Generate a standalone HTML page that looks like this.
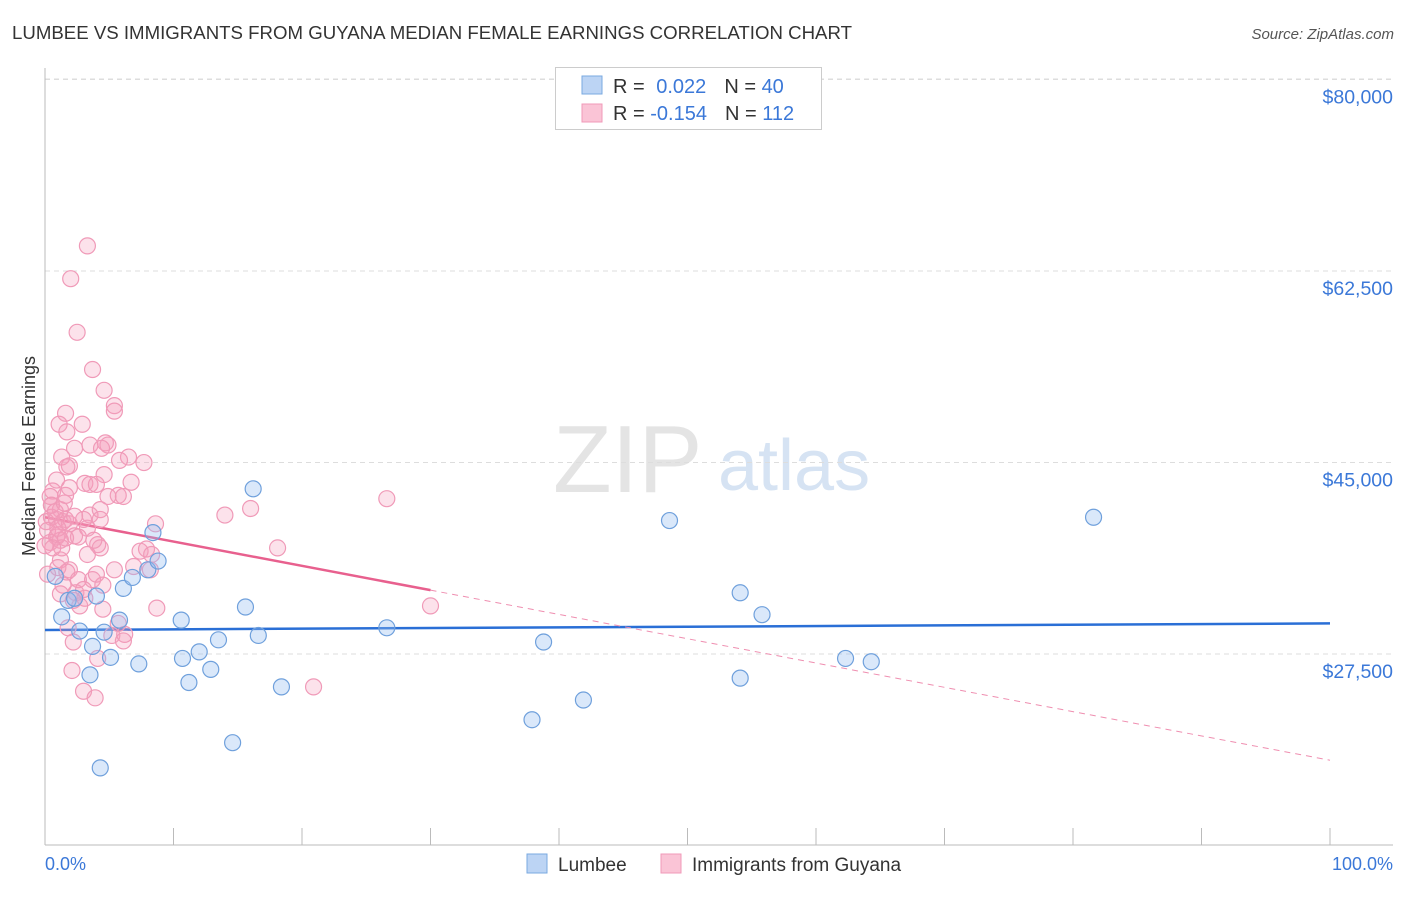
<!DOCTYPE html>
<html><head><meta charset="utf-8"><style>
body{margin:0;background:#fff;font-family:"Liberation Sans",sans-serif;}
svg text{font-family:"Liberation Sans",sans-serif;}
</style></head><body>
<svg id="chart" width="1406" height="892" viewBox="0 0 1406 892" xmlns="http://www.w3.org/2000/svg">
<text x="12" y="39" font-size="18" fill="#333" textLength="840" lengthAdjust="spacingAndGlyphs">LUMBEE VS IMMIGRANTS FROM GUYANA MEDIAN FEMALE EARNINGS CORRELATION CHART</text>
<text x="1394" y="39" font-size="15" fill="#555" font-style="italic" text-anchor="end">Source: ZipAtlas.com</text>
<g>
<text x="553" y="492" font-size="96" fill="#e4e4e4" font-family="Liberation Serif, serif">ZIP</text>
<text x="718" y="490" font-size="72" fill="#d6e3f3">atlas</text>
</g>
<g id="grid"></g>
<g id="axes"></g>
<g id="lines"></g>
<g id="pts"></g>
<text transform="translate(35,456) rotate(-90)" font-size="18" fill="#333" text-anchor="middle">Median Female Earnings</text>
<text x="45" y="870" font-size="18" fill="#3b78d8">0.0%</text>
<text x="1393" y="870" font-size="18" fill="#3b78d8" text-anchor="end">100.0%</text>
<g>
<rect x="555.5" y="67.5" width="266" height="62" fill="#fff" stroke="#ccc"/>
<rect x="582" y="76" width="20" height="18" fill="#bcd4f4" stroke="#7aaae0"/>
<rect x="582" y="104" width="20" height="18" fill="#fac4d6" stroke="#f09ab8"/>
<text x="613" y="93" font-size="20" fill="#333">R = <tspan fill="#3b78d8" dx="6">0.022</tspan><tspan fill="#333" dx="18">N = </tspan><tspan fill="#3b78d8">40</tspan></text>
<text x="613" y="120" font-size="20" fill="#333">R = <tspan fill="#3b78d8">-0.154</tspan><tspan fill="#333" dx="18">N = </tspan><tspan fill="#3b78d8">112</tspan></text>
</g>
<g>
<rect x="527" y="854" width="20" height="19" fill="#bcd4f4" stroke="#7aaae0"/>
<text x="558" y="871" font-size="19" fill="#333">Lumbee</text>
<rect x="661" y="854" width="20" height="19" fill="#fac4d6" stroke="#f09ab8"/>
<text x="692" y="871" font-size="19" fill="#333">Immigrants from Guyana</text>
</g>
</svg>
<script>
const yTicks=[27500,45000,62500,80000];
const yTickLabels=["$27,500","$45,000","$62,500","$80,000"];
const xTicks=[0,10,20,30,40,50,60,70,80,90,100];
const lumbeeX=[0.8,1.3,1.8,2.3,2.7,3.5,3.7,4.3,4.6,5.1,5.8,6.1,6.8,7.3,8.0,8.4,8.8,10.6,10.7,11.2,12.0,12.9,13.5,14.6,15.6,16.2,16.6,18.4,26.6,37.9,38.8,41.9,48.6,54.1,54.1,55.8,62.3,64.3,81.6,4.0];
const lumbeeY=[34.6,30.9,32.4,32.6,29.6,25.6,28.2,17.1,29.5,27.2,30.6,33.5,34.5,26.6,35.2,38.6,36.0,30.6,27.1,24.9,27.7,26.1,28.8,19.4,31.8,42.6,29.2,24.5,29.9,21.5,28.6,23.3,39.7,33.1,25.3,31.1,27.1,26.8,40.0,32.8];
const guyanaX=[3.3,2.0,2.5,3.7,4.6,5.4,5.4,1.6,2.9,1.1,1.7,3.5,4.7,4.9,2.3,1.3,1.9,1.7,6.5,7.7,5.8,4.6,0.9,3.1,3.5,4.0,6.7,0.6,0.4,0.5,1.2,3.5,4.3,5.7,4.9,6.1,0.5,0.9,1.4,1.6,1.9,0.1,0.2,0.9,1.2,0.4,2.3,3.3,8.6,14.0,16.0,26.6,4.1,4.3,7.4,7.9,8.3,18.1,1.2,3.3,1.0,1.9,1.7,5.4,6.9,8.2,0.2,1.4,2.6,3.7,4.0,1.2,2.4,3.0,4.5,2.2,2.7,4.5,8.7,30.0,1.8,2.2,5.2,6.2,6.1,4.1,2.1,3.0,3.9,20.9,0.5,0.8,1.0,1.3,2.6,3.0,0,1.9,3.1,5.7,1.0,1.5,1.6,2.3,3.8,4.3,0.6,1.6,4.4];
const guyanaY=[64.8,61.8,56.9,53.5,51.6,50.2,49.7,49.5,48.5,48.5,47.8,46.6,46.8,46.6,46.3,45.5,44.7,44.6,45.5,45.0,45.2,43.9,43.4,43.1,43.0,43.0,43.2,42.4,41.9,41.1,40.7,40.2,40.7,42.0,41.9,41.9,40.0,39.8,39.6,39.8,39.4,39.6,38.8,38.2,37.9,37.7,38.3,39.0,39.4,40.2,40.8,41.7,37.5,37.2,36.9,37.1,36.6,37.2,36.1,36.6,35.4,35.2,35.0,35.2,35.5,35.2,34.8,33.8,34.3,34.3,34.8,33.0,33.1,33.4,33.8,32.4,31.9,31.6,31.7,31.9,29.9,28.6,29.2,29.3,28.7,27.1,26.0,24.1,23.5,24.5,41.1,40.5,38.4,37.2,38.2,39.8,37.4,42.7,32.6,30.3,39.0,41.3,42.0,40.1,37.9,39.8,37.2,38.1,46.3];
const lumbeeTrend=[29.7,30.3];
const guyanaTrend=[40.0,17.8];
const guyanaSolidEnd=30;
const NS="http://www.w3.org/2000/svg";
function sx(p){return 45+p*12.85;}
function sy(v){return 955-v/91.38;}
function syk(k){return sy(k*1000);}
function mk(t,a,parent){const e=document.createElementNS(NS,t);for(const k in a)e.setAttribute(k,a[k]);parent.appendChild(e);return e;}
const grid=document.getElementById('grid'),axes=document.getElementById('axes'),lines=document.getElementById('lines'),pts=document.getElementById('pts');
let g=mk('line',{x1:45,x2:1393,y1:79,y2:79,stroke:'#ddd','stroke-dasharray':'5,4'},grid);


yTicks.forEach((v,i)=>{
 const l=mk('line',{x1:45,x2:1393,y1:sy(v),y2:sy(v),stroke:'#ddd','stroke-dasharray':'5,4'},grid);
 
 
 const t=mk('text',{x:1393,y:sy(v)+24,'font-size':19.5,fill:'#3b78d8','text-anchor':'end'},grid);
 t.textContent=yTickLabels[i];
 
 
});
let ax=mk('line',{x1:45,x2:45,y1:68,y2:845,stroke:'#bbb'},axes);


ax=mk('line',{x1:45,x2:1393,y1:845,y2:845,stroke:'#bbb'},axes);


xTicks.forEach(p=>{
 const t=mk('line',{x1:sx(p),x2:sx(p),y1:828,y2:845,stroke:'#bbb'},axes);
 
 
});
function dots(xs,ys,fill,stroke,name){
 xs.forEach((x,i)=>{
  const c=mk('circle',{cx:sx(x),cy:syk(ys[i]),r:8,fill:fill,stroke:stroke,'stroke-width':1.2},pts);
  
  
 });
}
dots(guyanaX,guyanaY,'rgba(245,160,190,0.3)','#f09ab8','guyana-point');
dots(lumbeeX,lumbeeY,'rgba(150,190,240,0.35)','#6fa0dc','lumbee-point');
let tl=mk('line',{x1:sx(0),y1:syk(lumbeeTrend[0]),x2:sx(100),y2:syk(lumbeeTrend[1]),stroke:'#2a6fd6','stroke-width':2.5},lines);


const gy=p=>guyanaTrend[0]+(guyanaTrend[1]-guyanaTrend[0])*p/100;
tl=mk('line',{x1:sx(0),y1:syk(gy(0)),x2:sx(guyanaSolidEnd),y2:syk(gy(guyanaSolidEnd)),stroke:'#e8608e','stroke-width':2.5},lines);


tl=mk('line',{x1:sx(guyanaSolidEnd),y1:syk(gy(guyanaSolidEnd)),x2:sx(100),y2:syk(gy(100)),stroke:'#ef8eb0','stroke-width':1,'stroke-dasharray':'6,5'},lines);


</script>
</body></html>
